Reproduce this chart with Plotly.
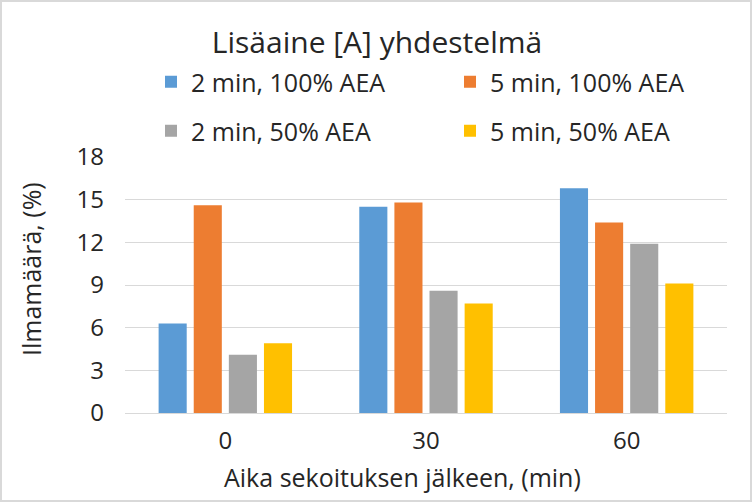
import plotly.graph_objects as go

categories = ["0", "30", "60"]
series_names = ["2 min, 100% AEA", "5 min, 100% AEA", "2 min, 50% AEA", "5 min, 50% AEA"]
s_2min_100 = [6.3, 14.5, 15.8]
s_5min_100 = [14.6, 14.8, 13.4]
s_2min_50 = [4.1, 8.6, 11.9]
s_5min_50 = [4.9, 7.7, 9.1]
colors = ["#5b9bd5", "#ed7d31", "#a5a5a5", "#ffc000"]
y_ticks = [0, 3, 6, 9, 12, 15, 18]

W, H = 752, 502
ml, mr, mt, mb = 125, 25, 157, 89
pw, ph = W - ml - mr, H - mt - mb

FONT = "Open Sans, Lato, sans-serif"
TXT = "#262626"


def px_x(p):
    return (p - ml) / pw


def px_y(p):
    return (H - mb - p) / ph


fig = go.Figure()
values = [s_2min_100, s_5min_100, s_2min_50, s_5min_50]
legend_ids = ["legend", "legend2", "legend3", "legend4"]
legend_pos = [(151, 82), (450, 82), (151, 131), (450, 131)]
for name, vals, c, lg in zip(series_names, values, colors, legend_ids):
    fig.add_trace(go.Bar(x=categories, y=vals, name=name, marker_color=c,
                         marker_line_width=0, legend=lg, showlegend=True))

legend_layout = {}
for lg, (lx, ly) in zip(legend_ids, legend_pos):
    legend_layout[lg] = dict(orientation="h", font=dict(size=25, color=TXT, family=FONT),
                             bgcolor="rgba(0,0,0,0)", xanchor="left", yanchor="middle",
                             itemwidth=30, x=px_x(lx), y=px_y(ly), visible=True)

fig.update_layout(
    width=W, height=H,
    margin=dict(l=ml, r=mr, t=mt, b=mb),
    paper_bgcolor="white", plot_bgcolor="white",
    font=dict(family=FONT, color=TXT),
    showlegend=True,
    title=dict(text="Lisäaine [A] yhdestelmä", x=px_x(377), xref="paper", xanchor="center",
               y=1 - 42 / H, yanchor="middle", font=dict(size=30, color=TXT, family=FONT)),
    barmode="group", bargap=0.30, bargroupgap=0.2,
    xaxis=dict(showline=True, linecolor="#d9d9d9", linewidth=1, ticks="",
               tickfont=dict(size=24, color=TXT), ticklabelstandoff=6),
    yaxis=dict(range=[0, 18], tickvals=y_ticks, showgrid=True, gridcolor="#d9d9d9",
               gridwidth=1, zeroline=False, ticks="", tickfont=dict(size=24, color=TXT),
               ticklabelstandoff=20),
    **legend_layout,
)

fig.add_annotation(text="Aika sekoituksen jälkeen, (min)", xref="paper", yref="paper",
                   x=px_x(402), y=px_y(477), xanchor="center", yanchor="middle",
                   showarrow=False, font=dict(size=25, color=TXT, family=FONT))
fig.add_annotation(text="Ilmamäärä, (%)", xref="paper", yref="paper", textangle=-90,
                   x=px_x(31), y=px_y(269), xanchor="center", yanchor="middle",
                   showarrow=False, font=dict(size=25, color=TXT, family=FONT))

fig.add_shape(type="rect", xref="paper", yref="paper",
              x0=px_x(1), x1=px_x(W - 1), y0=px_y(H - 1), y1=px_y(1),
              line=dict(color="#d9d9d9", width=2), fillcolor="rgba(0,0,0,0)", layer="below")

fig.write_html("out.html")
